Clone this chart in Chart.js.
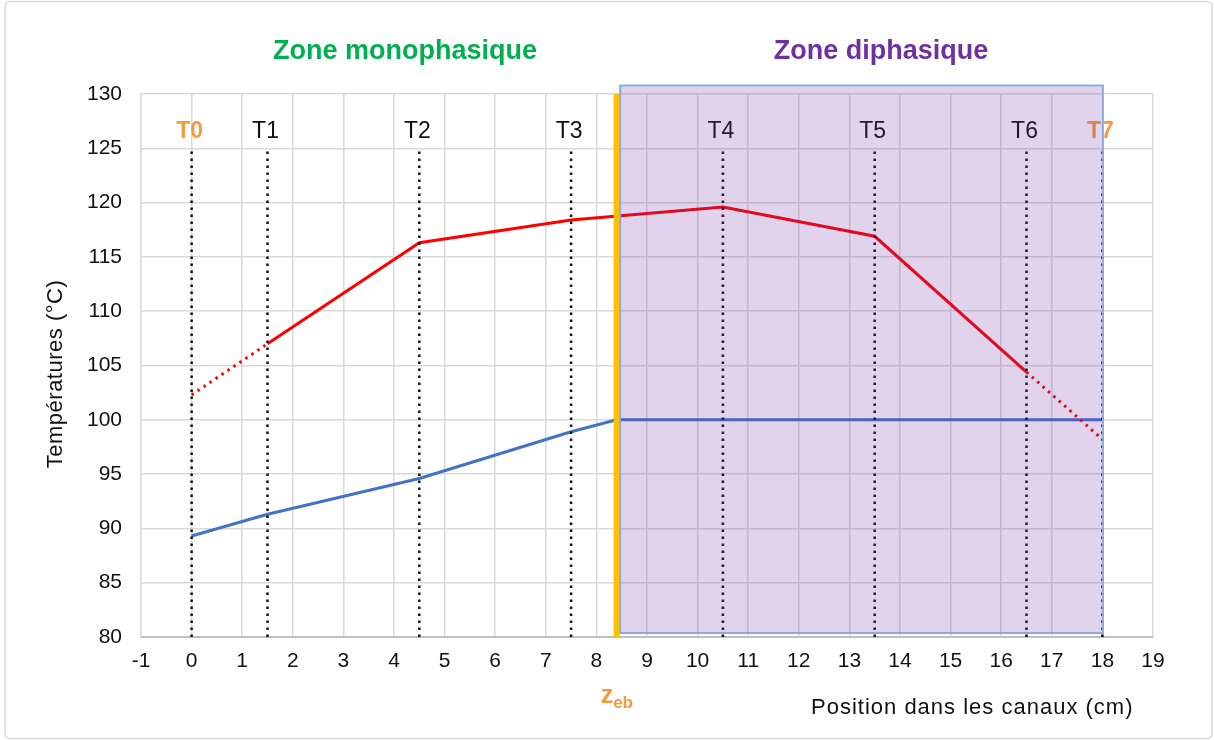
<!DOCTYPE html>
<html lang="fr">
<head>
<meta charset="UTF-8" />
<title>Températures le long des canaux</title>
<script src="https://cdn.jsdelivr.net/npm/chart.js"></script>
<style>
  html, body { margin: 0; padding: 0; background: #ffffff; }
  #wrap { position: relative; width: 1214px; height: 740px; }
</style>
</head>
<body>
<div id="wrap"><canvas id="tempChart" width="1214" height="740"></canvas></div>
<script>
// thermocouple positions along the channel (cm)
const sensorPos = [0, 1.5, 4.5, 7.5, 10.5, 13.5, 16.5, 18];
const sensorNames = ['T0', 'T1', 'T2', 'T3', 'T4', 'T5', 'T6', 'T7'];
// wall temperature at each thermocouple (°C)
const wallTemp = [102.3, 107.0, 116.3, 118.4, 119.6, 116.9, 104.4, 98.2];
// fluid temperature profile
const fluidPos = [0, 1.5, 4.5, 7.5, 8.4, 18];
const fluidTemp = [89.3, 91.3, 94.6, 98.9, 100, 100];
// onset of boiling and end of the two-phase zone
const zEb = 8.4;
const zoneEnd = 18;
// axes
const xMin = -1, xMax = 19, xStep = 1;
const yMin = 80, yMax = 130, yStep = 5;
const sensorTop = 125;

const FONT = "'Liberation Sans', Arial, sans-serif";
const ORANGE = '#f79a3e';

// vertical dotted markers, one segment per thermocouple
const markerData = sensorPos.flatMap(p => [{x: p, y: yMin}, {x: p, y: sensorTop}, {x: p, y: null}]);

const overlay = {
  id: 'overlay',
  beforeDraw(chart) {
    const ctx = chart.ctx;
    ctx.save();
    ctx.fillStyle = '#ffffff';
    ctx.fillRect(0, 0, chart.width, chart.height);
    ctx.strokeStyle = '#d9d9d9';
    ctx.lineWidth = 1.5;
    ctx.beginPath();
    ctx.roundRect(5, 1.5, chart.width - 7, chart.height - 3, 5);
    ctx.stroke();
    ctx.restore();
  },
  afterDatasetsDraw(chart) {
    const ctx = chart.ctx;
    const xs = chart.scales.x, ys = chart.scales.y;
    const area = chart.chartArea;
    ctx.save();

    // thermocouple names
    ctx.textAlign = 'center';
    ctx.textBaseline = 'alphabetic';
    sensorNames.forEach((name, i) => {
      const edge = i === 0 || i === sensorNames.length - 1;
      ctx.font = (edge ? 'bold ' : '') + '23px ' + FONT;
      ctx.fillStyle = edge ? ORANGE : '#111111';
      ctx.fillText(name, xs.getPixelForValue(sensorPos[i]) - 2, ys.getPixelForValue(sensorTop) - 10);
    });

    // two-phase zone shading
    const left = xs.getPixelForValue(zEb) + 3.5;
    const right = xs.getPixelForValue(zoneEnd) + 0.5;
    const top = area.top - 8.5;
    const bottom = area.bottom - 4;
    ctx.fillStyle = 'rgba(112, 48, 160, 0.21)';
    ctx.fillRect(left, top, right - left, bottom - top);
    ctx.strokeStyle = '#8eaadb';
    ctx.lineWidth = 2;
    ctx.strokeRect(left, top, right - left, bottom - top);

    // zone titles
    ctx.font = 'bold 27px ' + FONT;
    ctx.fillStyle = '#00b050';
    ctx.fillText('Zone monophasique', 405, 59);
    ctx.fillStyle = '#7030a0';
    ctx.fillText('Zone diphasique', 881, 59);

    // z_eb marker label
    const zx = xs.getPixelForValue(zEb) - 16;
    ctx.textAlign = 'left';
    ctx.fillStyle = ORANGE;
    ctx.font = 'bold 25px ' + FONT;
    ctx.fillText('z', zx, 703);
    const zw = ctx.measureText('z').width;
    ctx.font = 'bold 17px ' + FONT;
    ctx.fillText('eb', zx + zw, 708);

    // axis titles
    ctx.fillStyle = '#111111';
    ctx.font = '22px ' + FONT;
    ctx.letterSpacing = '1px';
    ctx.fillText('Position dans les canaux (cm)', 811, 714);
    ctx.letterSpacing = '0.5px';
    ctx.translate(56, 374);
    ctx.rotate(-Math.PI / 2);
    ctx.textAlign = 'center';
    ctx.textBaseline = 'middle';
    ctx.fillText('Températures (°C)', 0, 0);
    ctx.restore();
  }
};

new Chart(document.getElementById('tempChart'), {
  type: 'line',
  data: {
    datasets: [
      {
        label: 'zeb',
        data: [{x: zEb, y: yMin}, {x: zEb, y: yMax}],
        borderColor: '#ffc000',
        borderWidth: 6,
        order: 0
      },
      {
        label: 'thermocouples',
        data: markerData,
        borderColor: '#111111',
        borderWidth: 2.5,
        borderDash: [2.5, 4.5],
        spanGaps: false,
        order: 1
      },
      {
        label: 'Paroi',
        data: sensorPos.map((p, i) => ({x: p, y: wallTemp[i]})),
        borderColor: '#ff0000',
        borderWidth: 3,
        segment: {
          borderDash: c => (c.p0DataIndex === 0 || c.p1DataIndex === sensorPos.length - 1) ? [2.5, 4.7] : undefined
        },
        order: 2
      },
      {
        label: 'Fluide',
        data: fluidPos.map((p, i) => ({x: p, y: fluidTemp[i]})),
        borderColor: '#4472c4',
        borderWidth: 3,
        order: 3
      }
    ]
  },
  options: {
    responsive: false,
    animation: false,
    devicePixelRatio: 1,
    elements: { point: { radius: 0 }, line: { tension: 0 } },
    layout: { padding: { top: 94, right: 61, bottom: 0, left: 0 } },
    plugins: { legend: { display: false }, tooltip: { enabled: false } },
    scales: {
      x: {
        type: 'linear',
        min: xMin, max: xMax,
        afterFit: s => { s.height = 103; },
        ticks: { stepSize: xStep, padding: 12, color: '#111111', font: { family: FONT, size: 21 } },
        grid: { color: '#d9d9d9', lineWidth: 1.5, drawTicks: false },
        border: { color: '#bfbfbf', width: 2 }
      },
      y: {
        min: yMin, max: yMax,
        afterFit: s => { s.width = 141; },
        ticks: { stepSize: yStep, padding: 19, color: '#111111', font: { family: FONT, size: 21 } },
        grid: { color: '#d9d9d9', lineWidth: 1.5, drawTicks: false },
        border: { color: '#d9d9d9', width: 1.5 }
      }
    }
  },
  plugins: [overlay]
});
</script>
</body>
</html>
